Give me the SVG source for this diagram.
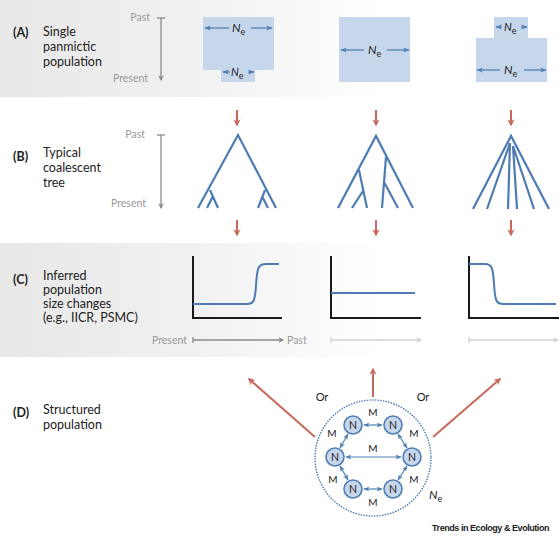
<svg xmlns="http://www.w3.org/2000/svg" width="560" height="541" viewBox="0 0 560 541">
<defs>
<linearGradient id="bg" x1="0" y1="0" x2="1" y2="0">
<stop offset="0" stop-color="#e8e8e8"/>
<stop offset="0.35" stop-color="#f1f1f1"/>
<stop offset="0.68" stop-color="#ffffff"/>
</linearGradient>
<marker id="ahb" viewBox="0 0 10 10" refX="9" refY="5" markerWidth="5" markerHeight="5" orient="auto-start-reverse" markerUnits="strokeWidth">
<path d="M0,1 L10,5 L0,9 L2.5,5 Z" fill="#4f7fb5"/>
</marker>
<marker id="ahr" viewBox="0 0 10 10" refX="8" refY="5" markerWidth="3.6" markerHeight="3.6" orient="auto" markerUnits="strokeWidth">
<path d="M0,0 L10,5 L0,10 L3,5 Z" fill="#c8685c"/>
</marker>
<marker id="ahg" viewBox="0 0 10 10" refX="8" refY="5" markerWidth="4.5" markerHeight="4.5" orient="auto" markerUnits="strokeWidth">
<path d="M0,0 L10,5 L0,10 L3,5 Z" fill="#8a8a8a"/>
</marker>
<marker id="ahl" viewBox="0 0 10 10" refX="8" refY="5" markerWidth="4.5" markerHeight="4.5" orient="auto" markerUnits="strokeWidth">
<path d="M0,0 L10,5 L0,10 L3,5 Z" fill="#d2d2d2"/>
</marker>
</defs>
<style>
text{font-family:Lato,"Liberation Sans",sans-serif;fill:#222}
.lab{font-size:12.5px}
.tag{font-size:12.5px;font-weight:bold}
.time{font-size:10.5px;fill:#9a9a9a}
.ne{font-size:12px}
.ne tspan.s{font-size:9px}
.pop{fill:#c6d6eb}
.narr{stroke:#4f7fb5;stroke-width:1.3;fill:none;marker-end:url(#ahb)}
.tree{stroke:#4c7cb3;stroke-width:2.2;fill:none;stroke-linecap:butt}
.red{stroke:#c8685c;stroke-width:2;fill:none;marker-end:url(#ahr)}
.axis{stroke:#1a1a1a;stroke-width:2;fill:none}
.curve{stroke:#4c7cb3;stroke-width:2;fill:none}
.gax{stroke:#8a8a8a;stroke-width:1.3;fill:none}
.gax.a{marker-end:url(#ahg)}
.lax{stroke:#d2d2d2;stroke-width:1.3;fill:none}
.lax.a{marker-end:url(#ahl)}
.node circle{fill:#c6d6eb;stroke:#4f7fb5;stroke-width:1.6}
.node text{font-size:10.5px;text-anchor:middle}
.m{font-size:10px;text-anchor:middle}
.mig{stroke:#4f7fb5;stroke-width:1.2;fill:none;marker-start:url(#ahb);marker-end:url(#ahb)}
</style>

<rect x="0" y="0" width="560" height="97" fill="url(#bg)"/>
<rect x="0" y="243" width="560" height="114" fill="url(#bg)"/>

<g id="panelA">
<text class="tag" x="13" y="37">(A)</text>
<text class="lab" x="43" y="36">Single</text>
<text class="lab" x="43" y="51">panmictic</text>
<text class="lab" x="43" y="66">population</text>
<text class="time" x="150" y="21" text-anchor="end">Past</text>
<text class="time" x="148" y="82" text-anchor="end">Present</text>
<path class="gax" d="M157,18 H165"/>
<path class="gax a" d="M161,18 V80"/>
<g id="popA1">
<path class="pop" d="M203,17 H274 V70 H255 V82 H221 V70 H203 Z"/>
<path class="narr" d="M229,28 H205"/>
<path class="narr" d="M251,28 H272"/>
<text class="ne" x="232" y="32"><tspan font-style="italic">N</tspan><tspan class="s" dy="3">e</tspan></text>
<path class="narr" d="M230,72 H223"/>
<path class="narr" d="M248,72 H254"/>
<text class="ne" x="231" y="76" style="font-size:11px"><tspan font-style="italic">N</tspan><tspan class="s" dy="3">e</tspan></text>
</g>
<g id="popA2">
<rect class="pop" x="339" y="17" width="71" height="65"/>
<path class="narr" d="M364,50 H341"/>
<path class="narr" d="M387,50 H409"/>
<text class="ne" x="368" y="54"><tspan font-style="italic">N</tspan><tspan class="s" dy="3">e</tspan></text>
</g>
<g id="popA3">
<path class="pop" d="M494,17 H528 V38 H547 V82 H476 V38 H494 Z"/>
<path class="narr" d="M502,27 H496"/>
<path class="narr" d="M521,27 H527"/>
<text class="ne" x="504" y="31" style="font-size:11px"><tspan font-style="italic">N</tspan><tspan class="s" dy="3">e</tspan></text>
<path class="narr" d="M500,70 H477"/>
<path class="narr" d="M524,70 H546"/>
<text class="ne" x="504" y="74"><tspan font-style="italic">N</tspan><tspan class="s" dy="3">e</tspan></text>
</g>
</g>

<g id="connectors">
<path class="red" d="M237,110 V125"/>
<path class="red" d="M376,110 V125"/>
<path class="red" d="M511,110 V125"/>
<path class="red" d="M237,220 V235"/>
<path class="red" d="M376,220 V235"/>
<path class="red" d="M511,220 V235"/>
<path class="red" d="M315,437 L249,379"/>
<path class="red" d="M373,397 V369"/>
<path class="red" d="M433,437 L500,379"/>
</g>

<g id="panelB">
<text class="tag" x="13" y="161">(B)</text>
<text class="lab" x="43" y="157">Typical</text>
<text class="lab" x="43" y="172">coalescent</text>
<text class="lab" x="43" y="187">tree</text>
<text class="time" x="145" y="138" text-anchor="end">Past</text>
<text class="time" x="146" y="207" text-anchor="end">Present</text>
<path class="gax" d="M157,135 H165"/>
<path class="gax a" d="M161,135 V208"/>
<g id="tree1">
<path class="tree" d="M198,208 L238,135 L276,208 M210,190 L218,208 M213,196 L207,208 M265,190 L258,208 M262,196 L268,208"/>
</g>
<g id="tree2">
<path class="tree" d="M338,208 L376,136 L413,208 M359,170 L367,208 M363,191 L352,208 M386,157 L382,208 M384,182 L398,208"/>
</g>
<g id="tree3">
<path class="tree" d="M473,209 L511,136 L549,209 M510,143 L487,209 M510,143 L508,209 M513,146 L517,209 M513,146 L534,209"/>
</g>
</g>

<g id="panelC">
<text class="tag" x="13" y="284">(C)</text>
<text class="lab" x="43" y="280">Inferred</text>
<text class="lab" x="43" y="294">population</text>
<text class="lab" x="43" y="308">size changes</text>
<text class="lab" x="43" y="322">(e.g., IICR, PSMC)</text>
<g id="plot1">
<path class="axis" d="M193,256 V318 H282"/>
<path class="curve" d="M193,304 H247 C254,304 255,300 256,286 C257,268 258,264 266,264 H279"/>
</g>
<g id="plot2">
<path class="axis" d="M331,256 V318 H421"/>
<path class="curve" d="M331,293 H415"/>
</g>
<g id="plot3">
<path class="axis" d="M469,256 V318 H559"/>
<path class="curve" d="M469,264 H485 C492,264 493,268 494,284 C495,300 496,304 503,304 H556"/>
</g>
<text class="time" x="187" y="344" text-anchor="end">Present</text>
<path class="gax" d="M193,337 V343"/>
<path class="gax a" d="M193,340 H283"/>
<text class="time" x="287" y="344">Past</text>
<path class="lax" d="M331,337 V343"/>
<path class="lax a" d="M331,340 H421"/>
<path class="lax" d="M469,337 V343"/>
<path class="lax a" d="M469,340 H558"/>
</g>

<g id="panelD">
<text class="tag" x="13" y="417">(D)</text>
<text class="lab" x="43" y="414">Structured</text>
<text class="lab" x="43" y="429">population</text>
<text class="lab" x="322" y="401" text-anchor="middle" style="font-size:11px">Or</text>
<text class="lab" x="423" y="401" text-anchor="middle" style="font-size:11px">Or</text>
<circle cx="373" cy="458" r="58" fill="none" stroke="#4f7fb5" stroke-width="1.6" stroke-dasharray="0.1 2.6" stroke-linecap="round"/>
<text class="ne" x="429" y="499"><tspan font-style="italic">N</tspan><tspan class="s" dy="3">e</tspan></text>
<g id="migration">
<path class="mig" d="M364,425 H382"/>
<path class="mig" d="M346,457 H401"/>
<path class="mig" d="M364,489 H382"/>
<path class="mig" d="M348,434 L340,448"/>
<path class="mig" d="M398,434 L407,448"/>
<path class="mig" d="M340,466 L348,480"/>
<path class="mig" d="M407,466 L398,480"/>
</g>
<text class="m" x="373" y="416">M</text>
<text class="m" x="373" y="452">M</text>
<text class="m" x="373" y="506">M</text>
<text class="m" x="332" y="437">M</text>
<text class="m" x="414" y="437">M</text>
<text class="m" x="333" y="483">M</text>
<text class="m" x="414" y="483">M</text>
<g id="nTL" class="node"><circle cx="353" cy="425" r="9"/><text x="353" y="429">N</text></g>
<g id="nTR" class="node"><circle cx="393" cy="425" r="9"/><text x="393" y="429">N</text></g>
<g id="nL" class="node"><circle cx="335" cy="457" r="9"/><text x="335" y="461">N</text></g>
<g id="nR" class="node"><circle cx="412" cy="457" r="9"/><text x="412" y="461">N</text></g>
<g id="nBL" class="node"><circle cx="353" cy="489" r="9"/><text x="353" y="493">N</text></g>
<g id="nBR" class="node"><circle cx="393" cy="489" r="9"/><text x="393" y="493">N</text></g>
</g>

<text x="549" y="531" text-anchor="end" style="font-family:'Liberation Sans',Arial,sans-serif;font-size:9px;font-weight:bold;letter-spacing:-0.45px;fill:#222">Trends in Ecology &amp; Evolution</text>
</svg>
